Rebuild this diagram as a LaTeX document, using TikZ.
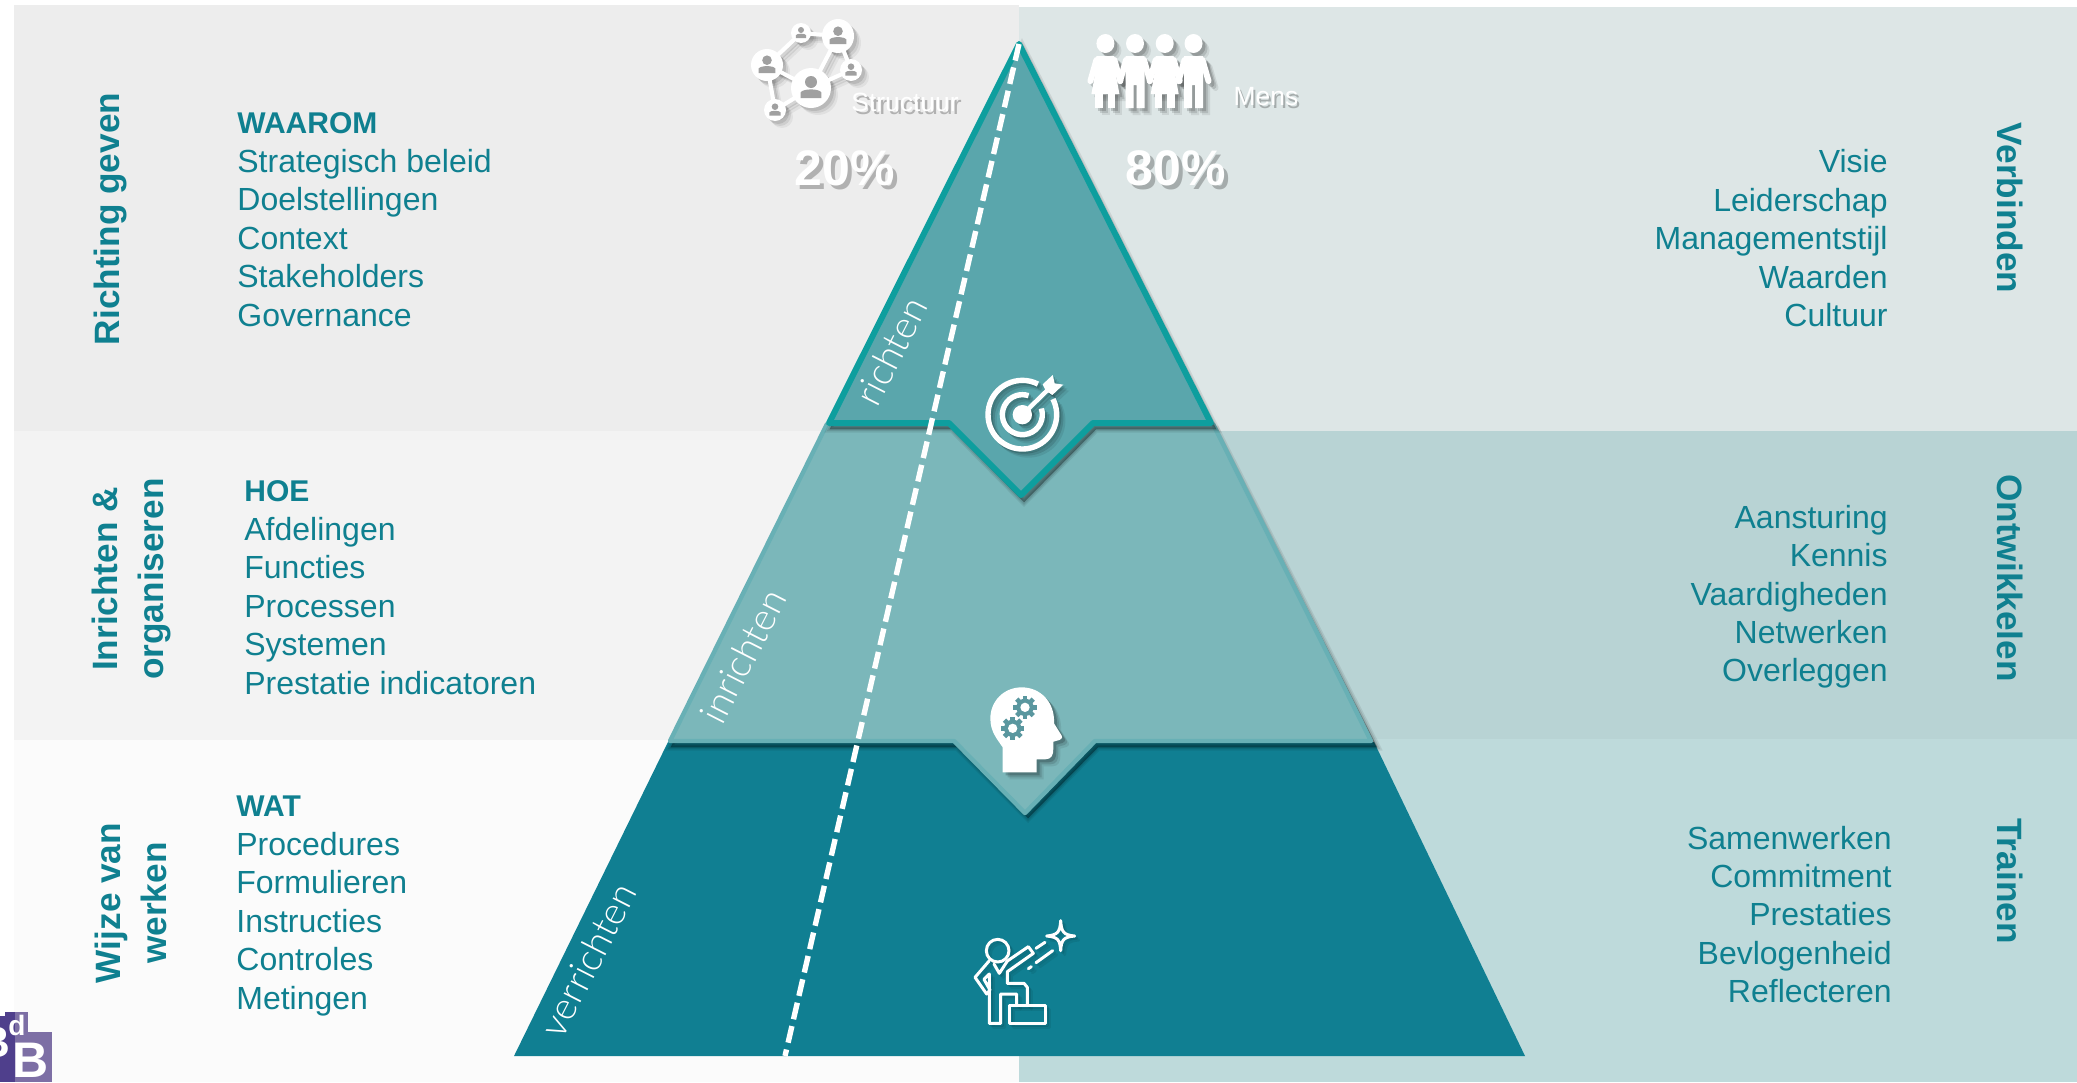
\documentclass[tikz,border=0pt]{standalone}
\usepackage{fontspec}
\setmainfont{Liberation Sans}
\newfontfamily\lightf{Lato Light}
\definecolor{tealtxt}{HTML}{0F8090}
\definecolor{lt}{HTML}{EDEDED}\definecolor{lm}{HTML}{F3F3F3}\definecolor{lb}{HTML}{FBFBFB}
\definecolor{rt}{HTML}{DDE6E6}\definecolor{rm}{HTML}{B8D3D4}\definecolor{rb}{HTML}{BEDADB}
\definecolor{pt}{HTML}{5AA6AC}\definecolor{ptl}{HTML}{0E9E9E}
\definecolor{pm}{HTML}{7BB7BA}\definecolor{pml}{HTML}{68B0B5}
\definecolor{pb}{HTML}{107F92}
\definecolor{gearc}{HTML}{5A979F}\definecolor{netg}{HTML}{A0A0A0}
\definecolor{ldark}{HTML}{4F3F8C}\definecolor{llight}{HTML}{7D6FA5}
\tikzset{
  body/.style={anchor=base west,text=tealtxt,font=\fontsize{16}{19}\selectfont,inner sep=0pt},
  bodyb/.style={body,font=\fontsize{15}{19}\selectfont\bfseries},
  bodyr/.style={anchor=base east,text=tealtxt,font=\fontsize{16}{19}\selectfont,inner sep=0pt},
  side/.style={text=tealtxt,font=\fontsize{17.6}{23}\selectfont\bfseries,inner sep=0pt,align=center},
  slant/.style={text=white,font=\fontsize{19}{22}\selectfont\lightf,inner sep=0pt,rotate=63},
  cap/.style={text=#1,font=\fontsize{13.2}{15}\selectfont,inner sep=0pt},
  pct/.style={text=#1,font=\fontsize{25}{30}\selectfont\bfseries,inner sep=0pt},
}
% soft shadow of a closed path
\newcommand\softshadow[1]{%
  \begin{scope}[shift={(3,5)}]
    \foreach \wd/\op in {7/.08,4/.10,1/.14}{\fill[black,opacity=\op,draw=black,line width=\wd*.5pt] #1;}
  \end{scope}}
% icons, in colour #1
\newcommand\targeticon[1]{%
 \begin{scope}[shift={(800,340)},x=.16667pt,y=-.16667pt]
  \draw[#1,line width=2.7pt] (667,224) ++(-27:103) arc[start angle=-27,end angle=297,radius=103];
  \draw[#1,line width=2.7pt] (667,224) ++(-18:60) arc[start angle=-18,end angle=288,radius=60];
  \fill[#1] (667,224) circle[radius=29];
  \draw[#1,line width=2.2pt] (667,224) -- (745,148);
  \fill[#1] (728,133) -- (758,105) -- (764,130) -- (790,134) -- (757,165) -- (737,152) -- cycle;
 \end{scope}}
\newcommand\headicon[2]{%
 \begin{scope}[shift={(880,660)},x=.16667pt,y=-.16667pt]
  \fill[#1] (368,337) -- (470,337) -- (470,298) -- (495,298) .. controls (515,298) and (520,285) .. (520,265)
    -- (520,245) -- (538,240) .. controls (548,236) and (548,230) .. (542,222) -- (522,190)
    .. controls (525,125) and (480,82) .. (425,82) .. controls (370,82) and (331,125) .. (331,175)
    .. controls (331,215) and (350,235) .. (368,262) -- cycle;
  \foreach \cx/\cy in {398/205,435/142}{
    \fill[#2] (\cx,\cy) circle[radius=26];
    \foreach \a in {0,45,90,135}{\fill[#2,shift={(\cx,\cy)},rotate=\a] (-7,-35) rectangle (7,35);}
    \fill[white] (\cx,\cy) circle[radius=14];
  }
 \end{scope}}
\newcommand\climbicon[1]{%
 \begin{scope}[shift={(900,890)},x=.16667pt,y=-.16667pt,line width=1.5pt,#1,line join=round,line cap=round]
  \draw (293,182) circle[radius=34];
  \draw (268,212) -- (225,262) -- (260,312) -- (270,300) -- (252,268) -- (268,252) -- (268,400) -- (302,400) -- (302,312) -- (350,312) -- (350,345);
  \draw (282,222) -- (298,250) -- (322,213) -- (385,170) -- (400,190) -- (322,245) -- (322,280) -- (372,280) -- (382,292) -- (382,345);
  \draw (328,345) rectangle (436,400);
  \draw (482,92) .. controls (484,125) and (490,135) .. (524,138) .. controls (490,141) and (484,150) .. (482,182)
    .. controls (480,150) and (474,141) .. (440,138) .. controls (474,135) and (480,125) .. (482,92) -- cycle;
  \draw (408,175) -- (435,157);
  \draw (408,218) -- (458,182);
  \draw (385,236) -- (394,230);
 \end{scope}}
\newcommand\netperson[3]{% x y r
  \fill[netg] (#1,#2-.30*#3) circle[radius=.30*#3];
  \fill[netg] (#1-.52*#3,#2+.50*#3) -- (#1-.52*#3,#2+.22*#3) .. controls (#1-.4*#3,#2+.02*#3) and (#1+.4*#3,#2+.02*#3) .. (#1+.52*#3,#2+.22*#3) -- (#1+.52*#3,#2+.50*#3) -- cycle;}
\newcommand\neticon[2]{%
  \coordinate (na) at (801,33);\coordinate (nb) at (838,36);\coordinate (nc) at (767,65);
  \coordinate (nd) at (811,88);\coordinate (ne) at (851,70);\coordinate (nf) at (775,110);
  \draw[#1,line width=2pt] (nc)--(na)--(nb)--(nd)--(nc)--(nf)--(nd)--(ne)--(nb);
  \fill[#1] (na) circle[radius=10];
  \fill[#1] (nb) ellipse[x radius=16,y radius=17];
  \fill[#1] (nc) circle[radius=16];
  \fill[#1] (nd) circle[radius=20];
  \fill[#1] (ne) circle[radius=11];
  \fill[#1] (nf) circle[radius=11];
  \ifnum#2=1
  \netperson{801}{33}{10}\netperson{838}{36}{16}\netperson{767}{65}{16}
  \netperson{811}{88}{20}\netperson{851}{70}{11}\netperson{775}{110}{11}
  \fi}
\newcommand\peopleicon[1]{%
  \foreach \cx/\kind in {1105.4/0,1135/1,1164.7/0,1193.5/1}{
    \fill[#1] (\cx,43.5) ellipse[x radius=9,y radius=9.5];
    \ifnum\kind=0
      \fill[#1] (\cx-9,56) -- (\cx+9,56) -- (\cx+10,72) -- (\cx+14,94) -- (\cx-14,94) -- (\cx-10,72) -- cycle;
      \fill[#1] (\cx-10,92) rectangle (\cx-2.5,108);
      \fill[#1] (\cx+2.5,92) rectangle (\cx+10,108);
    \else
      \fill[#1] (\cx-9.5,56) -- (\cx+9.5,56) -- (\cx+9.5,108) -- (\cx+1.5,108) -- (\cx+1.5,85) -- (\cx-1.5,85) -- (\cx-1.5,108) -- (\cx-9.5,108) -- cycle;
    \fi
    \draw[#1,line width=3pt,line cap=round,line join=round] (\cx-9,60) -- (\cx-15,81);
    \draw[#1,line width=3pt,line cap=round,line join=round] (\cx+9,60) -- (\cx+15,81);
  }}
\begin{document}
\begin{tikzpicture}[x=.5pt,y=-.5pt]
\useasboundingbox (0,0) rectangle (2077,1082);
% panels
\fill[lt] (14,5) rectangle (1019,431);
\fill[lm] (14,431) rectangle (1019,740);
\fill[lb] (14,740) rectangle (1019,1082);
\fill[rt] (1019,7) rectangle (2077,431);
\fill[rm] (1019,431) rectangle (2077,739);
\fill[rb] (1019,739) rectangle (2077,1082);
% pyramid
\fill[pb] (668,742) -- (1374,742) -- (1525,1056) -- (514,1056) -- cycle;
\softshadow{(827,424) -- (1213,424) -- (1374,742) -- (1095,742) -- (1025,813) -- (954,742) -- (668,742) -- cycle}
\path[fill=pm,draw=pml,line width=2.2pt,line join=round] (827,424) -- (1213,424) -- (1371,741) -- (1095,741) -- (1025,813) -- (954,741) -- (670,741) -- cycle;
\softshadow{(1019,41) -- (1213,424) -- (1093,424) -- (1021,497) -- (949,424) -- (827,424) -- cycle}
\path[fill=pt,draw=ptl,line width=3pt,line join=round] (1019,44) -- (1211,423) -- (1093,423) -- (1021,495) -- (949,423) -- (829,423) -- cycle;
% dashed divider
\coordinate (apex) at (1019,44);
\coordinate (foot) at (785,1056);
\draw[white,line width=2.7pt,dash pattern=on 8.5pt off 3.5pt] (apex) -- (foot);
% slanted labels
\node[slant] (richten) at (891,351) {richten};
\node[slant] (inrichten) at (743,656) {inrichten};
\node[slant] (verrichten) at (588,960) {verrichten};
% icons
\foreach \s/\o in {3/.10,5/.08,7/.05}{\begin{scope}[shift={(\s,\s)},opacity=\o]\neticon{black}{0}\end{scope}}
\neticon{white}{1}
\foreach \s/\o in {3/.16,5/.12,7/.08}{\begin{scope}[shift={(\s,\s)},opacity=\o]\peopleicon{black}\end{scope}}
\peopleicon{white}
\foreach \s/\o in {2/.16,4/.12,6/.08}{\begin{scope}[shift={(\s,\s)},opacity=\o]\targeticon{black}\end{scope}}
\targeticon{white}
\foreach \s/\o in {3/.18,5/.12,7/.08}{\begin{scope}[shift={(\s,\s)},opacity=\o]\headicon{black}{black}\end{scope}}
\headicon{white}{gearc}
\foreach \s/\o in {2/.10,4/.07}{\begin{scope}[shift={(\s,\s)},opacity=\o]\climbicon{black}\end{scope}}
\climbicon{white}
% white captions with shadow
\node[cap=black,opacity=.25] (structuurS) at (908,105) {Structuur};
\node[cap=white] (structuur) at (905,102) {Structuur};
\node[cap=black,opacity=.25] (mensS) at (1268,100) {Mens};
\node[cap=white] (mens) at (1266,97) {Mens};
\node[pct=black,opacity=.25] (pctaS) at (849,172) {20\%};
\node[pct=white] (pcta) at (845,168) {20\%};
\node[pct=black,opacity=.25] (pctbS) at (1180,172) {80\%};
\node[pct=white] (pctb) at (1176,168) {80\%};
% left column texts
\node[bodyb] (a0) at (237,133) {WAAROM};
\node[body] (a1) at (237,172) {Strategisch beleid};
\node[body] (a2) at (237,210) {Doelstellingen};
\node[body] (a3) at (237,249) {Context};
\node[body] (a4) at (237,287) {Stakeholders};
\node[body] (a5) at (237,326) {Governance};
\node[bodyb] (b0) at (244,501) {HOE};
\node[body] (b1) at (244,540) {Afdelingen};
\node[body] (b2) at (244,578) {Functies};
\node[body] (b3) at (244,617) {Processen};
\node[body] (b4) at (244,655) {Systemen};
\node[body] (b5) at (244,694) {Prestatie indicatoren};
\node[bodyb] (c0) at (236,816) {WAT};
\node[body] (c1) at (236,855) {Procedures};
\node[body] (c2) at (236,893) {Formulieren};
\node[body] (c3) at (236,932) {Instructies};
\node[body] (c4) at (236,970) {Controles};
\node[body] (c5) at (236,1009) {Metingen};
% right column texts
\node[bodyr] (d1) at (1888,172) {Visie};
\node[bodyr] (d2) at (1888,211) {Leiderschap};
\node[bodyr] (d3) at (1888,249) {Managementstijl};
\node[bodyr] (d4) at (1888,288) {Waarden};
\node[bodyr] (d5) at (1888,326) {Cultuur};
\node[bodyr] (e1) at (1888,528) {Aansturing};
\node[bodyr] (e2) at (1888,566) {Kennis};
\node[bodyr] (e3) at (1888,605) {Vaardigheden};
\node[bodyr] (e4) at (1888,643) {Netwerken};
\node[bodyr] (e5) at (1888,681) {Overleggen};
\node[bodyr] (f1) at (1892,849) {Samenwerken};
\node[bodyr] (f2) at (1892,887) {Commitment};
\node[bodyr] (f3) at (1892,925) {Prestaties};
\node[bodyr] (f4) at (1892,964) {Bevlogenheid};
\node[bodyr] (f5) at (1892,1002) {Reflecteren};
% side labels
\node[side,rotate=90] (s1) at (110,219) {Richting geven};
\node[side,rotate=90] (s2) at (131,579) {Inrichten \&\\organiseren};
\node[side,rotate=90] (s3) at (131,903) {Wijze van\\werken};
\node[side,rotate=-90] (s4) at (2010,208) {Verbinden};
\node[side,rotate=-90] (s5) at (2010,578) {Ontwikkelen};
\node[side,rotate=-90] (s6) at (2010,881) {Trainen};
% logo
\begin{scope}
 \clip (0,1012) rectangle (52,1082);
 \fill[ldark] (0,1012) rectangle (15,1082);
 \fill[llight] (15,1012) rectangle (28,1032);
 \fill[llight] (15,1032) rectangle (52,1082);
 \node[text=white,font=\fontsize{22}{22}\selectfont\bfseries,inner sep=0pt] (logob) at (-6,1042) {B};
 \node[text=white,font=\fontsize{14}{14}\selectfont\bfseries,inner sep=0pt] (logod) at (17,1025) {d};
 \node[text=white,font=\fontsize{25}{25}\selectfont\bfseries,inner sep=0pt] (logoB) at (31,1060) {B};
\end{scope}
\fill[white] (0,1012) rectangle (5,1016);
\end{tikzpicture}
\end{document}
